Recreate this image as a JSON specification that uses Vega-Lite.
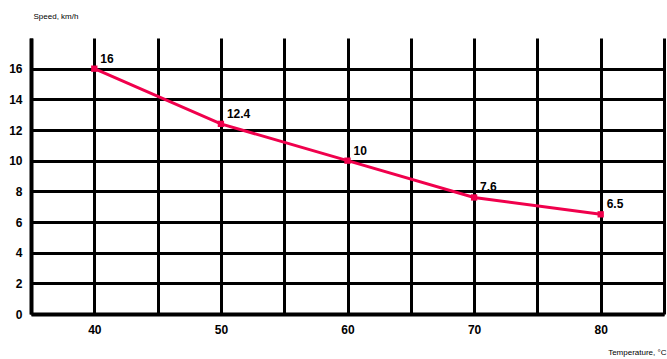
{
  "$schema": "https://vega.github.io/schema/vega-lite/v6.json",
  "width": 633,
  "height": 276,
  "autosize": "none",
  "padding": {"left": 31, "top": 38, "right": 3, "bottom": 45},
  "background": "white",
  "config": {"view": {"stroke": null}, "font": "Liberation Sans"},
  "data": {"values": [
    {"x": 40, "y": 16, "label": "16"},
    {"x": 50, "y": 12.4, "label": "12.4"},
    {"x": 60, "y": 10, "label": "10"},
    {"x": 70, "y": 7.6, "label": "7.6"},
    {"x": 80, "y": 6.5, "label": "6.5"}
  ]},
  "encoding": {
    "x": {"field": "x", "type": "quantitative", "scale": {"domain": [35, 85], "nice": false, "zero": false},
      "axis": {"values": [35, 40, 45, 50, 55, 60, 65, 70, 75, 80, 85],
        "labelExpr": "datum.value % 10 == 0 && datum.value >= 40 && datum.value <= 80 ? datum.label : ''",
        "grid": true, "gridColor": "black", "gridWidth": 3, "gridOpacity": 1,
        "domainColor": "black", "domainWidth": 4, "ticks": false,
        "labelFont": "Liberation Sans", "labelFontSize": 12, "labelFontWeight": "bold", "labelColor": "black", "labelPadding": 10,
        "title": "Temperature, °C", "titleFontSize": 8, "titleFontWeight": "normal", "titleColor": "black",
        "titleAnchor": "end", "titleAlign": "right", "titleBaseline": "middle", "titleX": 635, "titleY": 38}},
    "y": {"field": "y", "type": "quantitative", "scale": {"domain": [0, 18], "nice": false},
      "axis": {"values": [0, 2, 4, 6, 8, 10, 12, 14, 16],
        "grid": true, "gridColor": "black", "gridWidth": 3, "gridOpacity": 1,
        "domainColor": "black", "domainWidth": 4, "ticks": false,
        "labelFont": "Liberation Sans", "labelFontSize": 12, "labelFontWeight": "bold", "labelColor": "black", "labelPadding": 9,
        "title": "Speed, km/h", "titleFontSize": 8, "titleFontWeight": "normal", "titleColor": "black",
        "titleAngle": 0, "titleAlign": "left", "titleBaseline": "middle", "titleX": 2, "titleY": -22}}
  },
  "layer": [
    {"mark": {"type": "line", "color": "#f0004c", "strokeWidth": 3}},
    {"mark": {"type": "point", "shape": "square", "filled": true, "color": "#f0004c", "size": 40, "opacity": 1}},
    {"mark": {"type": "text", "align": "left", "dx": 6, "dy": -10, "fontSize": 12, "fontWeight": "bold", "color": "black"},
      "encoding": {"text": {"field": "label"}}}
  ]
}
